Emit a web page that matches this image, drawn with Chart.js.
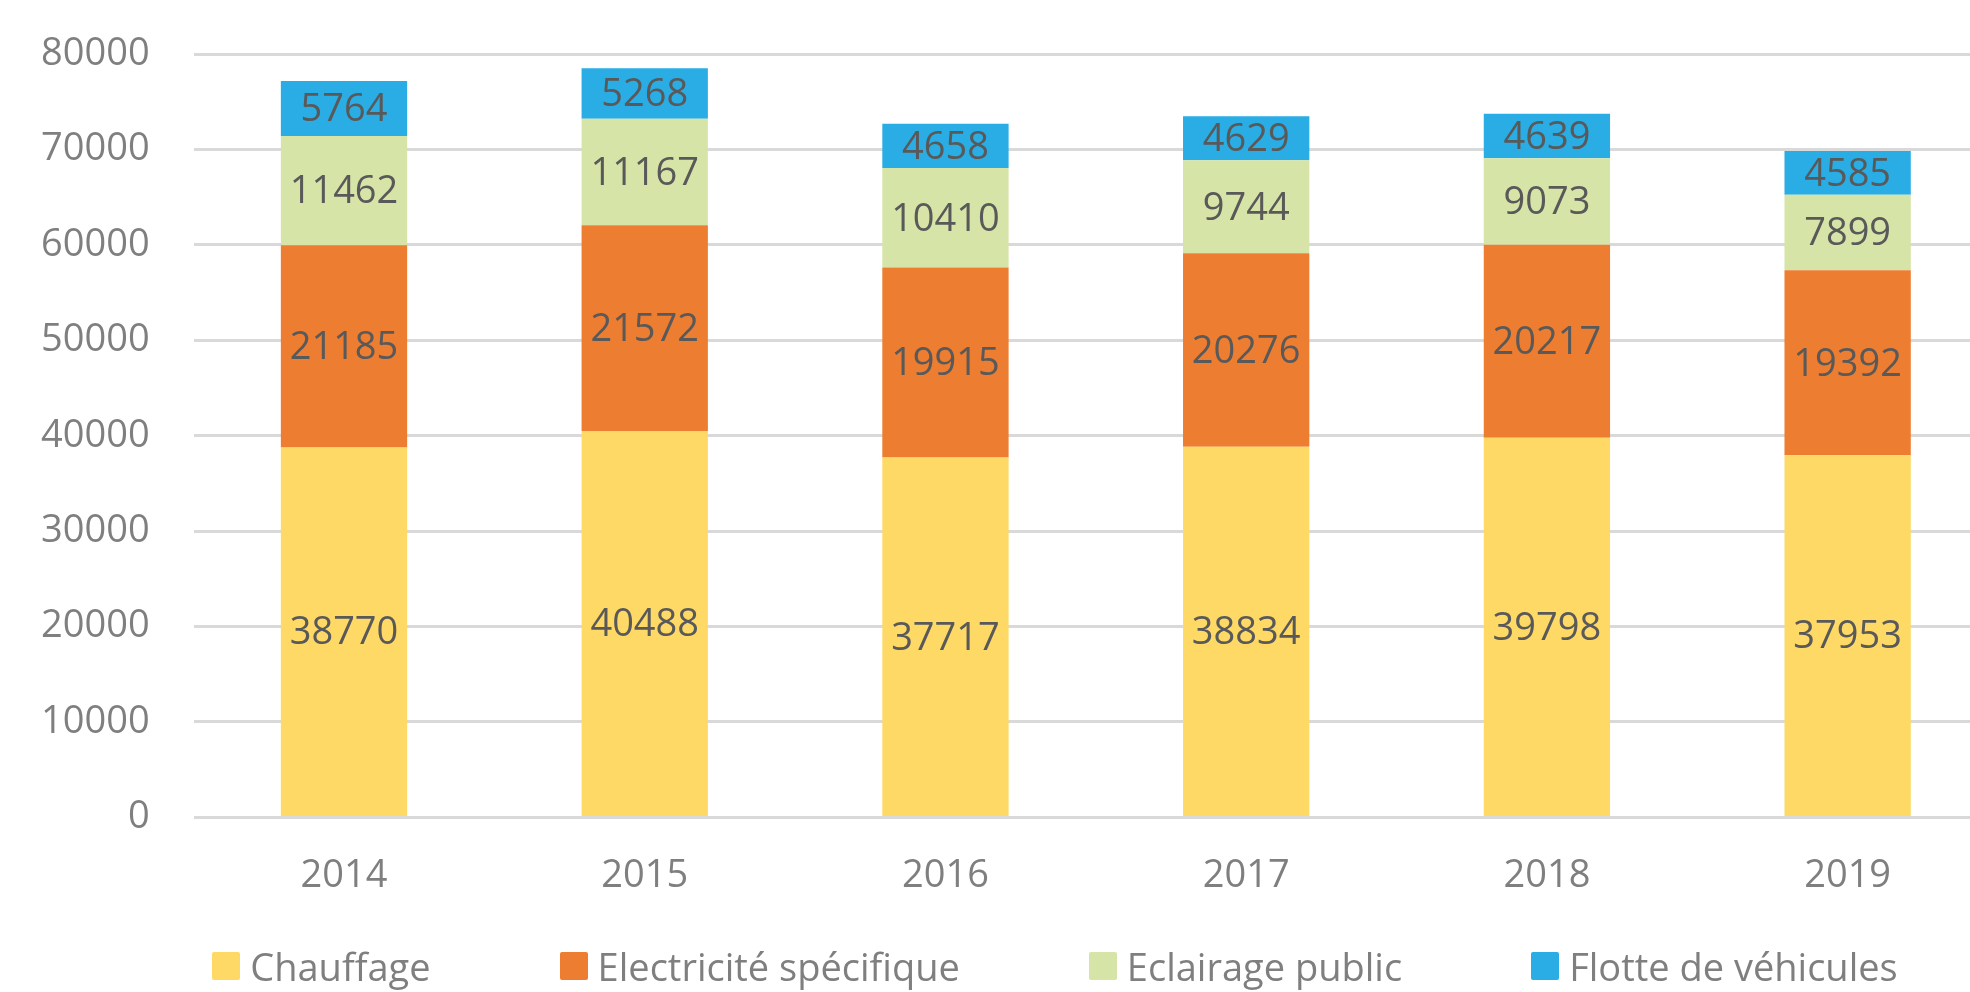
<!DOCTYPE html>
<html>
<head>
<meta charset="utf-8">
<script src="https://cdn.jsdelivr.net/npm/chart.js@4"></script>
<style>
  html, body { margin: 0; padding: 0; background: #fff; overflow: hidden; }
  #wrap { position: absolute; left: 0; top: 0; width: 2110px; height: 992px; }
  #legend {
    position: absolute; left: 0; top: 944px; width: 2110px; height: 44px;
    display: flex; justify-content: center; align-items: center; gap: 129px;
    font-family: 'Open Sans', sans-serif; font-size: 38px; color: #7F7F7F;
  }
  #legend .item { display: flex; align-items: center; white-space: nowrap; }
  #legend .box { width: 28px; height: 28px; border-radius: 2px; margin-right: 10px; }
</style>
</head>
<body>
<div id="wrap">
  <canvas id="chart" width="2110" height="992"></canvas>
  <div id="legend"></div>
</div>
<script>
const years = ["2014", "2015", "2016", "2017", "2018", "2019"];
const chauffage = [38770, 40488, 37717, 38834, 39798, 37953];
const electricite = [21185, 21572, 19915, 20276, 20217, 19392];
const eclairage = [11462, 11167, 10410, 9744, 9073, 7899];
const flotte = [5764, 5268, 4658, 4629, 4639, 4585];

const seriesNames = ["Chauffage", "Electricité spécifique", "Eclairage public", "Flotte de véhicules"];
const seriesColors = ["#FED966", "#ED7D31", "#D6E4A7", "#29ADE4"];
const seriesData = [chauffage, electricite, eclairage, flotte];

const fontFamily = "'Open Sans', sans-serif";

// draws value in the middle of each bar segment
const segmentLabels = {
    id: "segmentLabels",
    afterDatasetsDraw(chart) {
        const ctx = chart.ctx;
        ctx.save();
        ctx.font = "38px " + fontFamily;
        ctx.fillStyle = "#595959";
        ctx.textAlign = "center";
        ctx.textBaseline = "middle";
        chart.data.datasets.forEach((ds, i) => {
            const meta = chart.getDatasetMeta(i);
            meta.data.forEach((bar, j) => {
                const midY = (bar.y + bar.base) / 2;
                ctx.fillText(String(ds.data[j]), bar.x, midY + 2);
            });
        });
        ctx.restore();
    }
};

const context = document.getElementById("chart").getContext("2d");
const chart = new Chart(context, {
    type: "bar",
    data: {
        labels: years,
        datasets: seriesData.map((values, i) => ({
            label: seriesNames[i],
            data: values,
            backgroundColor: seriesColors[i],
            borderWidth: 0,
            barPercentage: 0.42,
            categoryPercentage: 1.0
        }))
    },
    options: {
        responsive: false,
        animation: false,
        devicePixelRatio: 1,
        layout: {
            padding: { left: -3, right: 112, top: 54, bottom: 65 }
        },
        plugins: {
            tooltip: { enabled: false },
            legend: { display: false }
        },
        scales: {
            x: {
                stacked: true,
                grid: { display: false },
                border: { display: false },
                ticks: {
                    font: { family: fontFamily, size: 38 },
                    color: "#7F7F7F",
                    padding: 28
                }
            },
            y: {
                stacked: true,
                min: 0,
                max: 80000,
                grid: { color: "#D9D9D9", lineWidth: 3, drawTicks: false },
                border: { display: false },
                ticks: {
                    stepSize: 10000,
                    font: { family: fontFamily, size: 38 },
                    color: "#7F7F7F",
                    padding: 44,
                    callback: (v) => String(v)
                },
                // keep the tick padding from pushing the plot area down
                afterFit: (scale) => {
                    scale.paddingTop = 0;
                    scale.paddingBottom = 0;
                }
            }
        }
    },
    plugins: [segmentLabels]
});

// html legend
const legendEl = document.getElementById("legend");
chart.data.datasets.forEach((ds) => {
    const item = document.createElement("div");
    item.className = "item";
    const box = document.createElement("span");
    box.className = "box";
    box.style.background = ds.backgroundColor;
    const label = document.createElement("span");
    label.textContent = ds.label;
    item.appendChild(box);
    item.appendChild(label);
    legendEl.appendChild(item);
});
</script>
</body>
</html>
